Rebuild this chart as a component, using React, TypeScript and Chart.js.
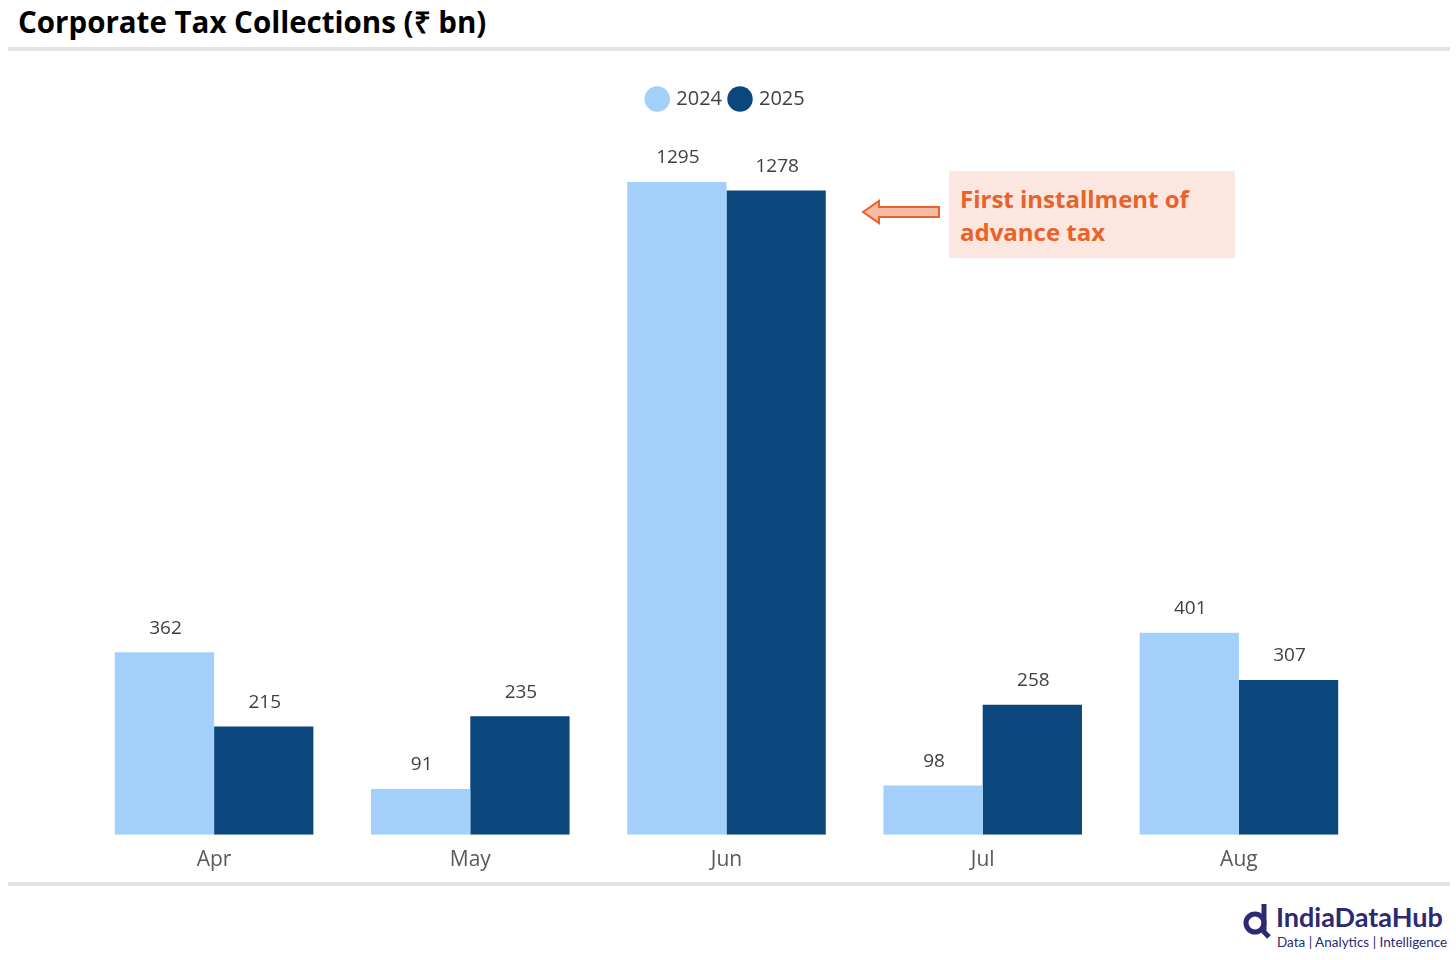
import React, { useEffect, useRef } from "react";
import { Chart, registerables } from "chart.js";

Chart.register(...registerables);

const months = ["Apr", "May", "Jun", "Jul", "Aug"];
const series2024 = [362, 91, 1295, 98, 401];
const series2025 = [215, 235, 1278, 258, 307];
const seriesNames = ["2024", "2025"];
const yMax = 1420;

const LIGHT = "#a3d0fb";
const DARK = "#0b477d";

const valueLabels = {
  id: "valueLabels",
  afterDatasetsDraw(chart: any) {
    const ctx = chart.ctx;
    ctx.save();
    ctx.font = "19px 'Open Sans', sans-serif";
    ctx.fillStyle = "#404040";
    ctx.textAlign = "center";
    ctx.textBaseline = "middle";
    chart.data.datasets.forEach((ds: any, i: number) => {
      const meta = chart.getDatasetMeta(i);
      meta.data.forEach((bar: any, j: number) => {
        ctx.fillText(String(ds.data[j]), bar.x + 1, bar.y - 24);
      });
    });
    ctx.restore();
  },
};

export default function App() {
  const ref = useRef<HTMLCanvasElement>(null);
  useEffect(() => {
    const chart = new Chart(ref.current!, {
      type: "bar",
      data: {
        labels: months,
        datasets: [
          { label: seriesNames[0], data: series2024, backgroundColor: LIGHT },
          { label: seriesNames[1], data: series2025, backgroundColor: DARK },
        ],
      },
      options: {
        animation: false,
        responsive: false,
        maintainAspectRatio: false,
        layout: { padding: { left: 86, right: 89, top: 22, bottom: 0 } },
        datasets: { bar: { barPercentage: 1, categoryPercentage: 0.775 } } as any,
        plugins: {
          legend: {
            display: true,
            position: "top",
            labels: {
              usePointStyle: true,
              pointStyle: "circle",
              boxWidth: 18,
              boxHeight: 18,
              padding: 9,
              color: "#404040",
              font: { size: 20, family: "'Open Sans', sans-serif" },
            },
          },
          tooltip: { enabled: false },
        },
        scales: {
          x: {
            grid: { display: false },
            border: { display: false },
            ticks: { color: "#595959", font: { size: 21, family: "'Open Sans', sans-serif" }, padding: 5 },
          },
          y: { display: false, min: 0, max: yMax },
        },
      },
      plugins: [valueLabels],
    });
    return () => chart.destroy();
  }, []);

  return (
    <div style={{ position: "absolute", left: 0, top: 0, width: 1456, height: 960, background: "#fff", fontFamily: "'Open Sans', sans-serif" }}>
      <div style={{ position: "absolute", left: 18, top: 1, fontSize: 29.5, fontWeight: 700, color: "#000", whiteSpace: "nowrap" }}>
        Corporate Tax Collections (₹ bn)
      </div>
      <div style={{ position: "absolute", left: 8, top: 47, width: 1442, height: 4, background: "#e3e3e3" }} />
      <canvas ref={ref} width={1456} height={820} style={{ position: "absolute", left: 0, top: 58, width: 1456, height: 820 }} />
      <div style={{ position: "absolute", left: 8, top: 882, width: 1442, height: 4, background: "#e3e3e3" }} />
      <div style={{ position: "absolute", left: 949, top: 171, width: 286, height: 87, background: "#fbe7df" }} />
      <div style={{ position: "absolute", left: 960, top: 182, fontSize: 24, fontWeight: 700, color: "#e8622a", lineHeight: "33px", whiteSpace: "nowrap" }}>
        First installment of<br />advance tax
      </div>
      <svg style={{ position: "absolute", left: 855, top: 195 }} width={95} height={36}>
        <path d="M8 17 L24 6 L24 12 L84 12 L84 22 L24 22 L24 28 Z" fill="#f5bca5" stroke="#e8622a" strokeWidth={2} />
      </svg>
      <svg style={{ position: "absolute", left: 1242, top: 902 }} width={32} height={38}>
        <circle cx={13} cy={21} r={9} fill="none" stroke="#2b2a72" strokeWidth={5} />
        <path d="M22 2 L22 30 L27 35" fill="none" stroke="#2b2a72" strokeWidth={5} />
      </svg>
      <div style={{ position: "absolute", left: 1276, top: 900, fontSize: 27, fontWeight: 700, color: "#2b2a72", whiteSpace: "nowrap", fontFamily: "Lato, sans-serif" }}>
        IndiaDataHub
      </div>
      <div style={{ position: "absolute", left: 1277, top: 934, fontSize: 13.5, color: "#2b2a72", whiteSpace: "nowrap", fontFamily: "Lato, sans-serif" }}>
        Data | Analytics | Intelligence
      </div>
    </div>
  );
}
